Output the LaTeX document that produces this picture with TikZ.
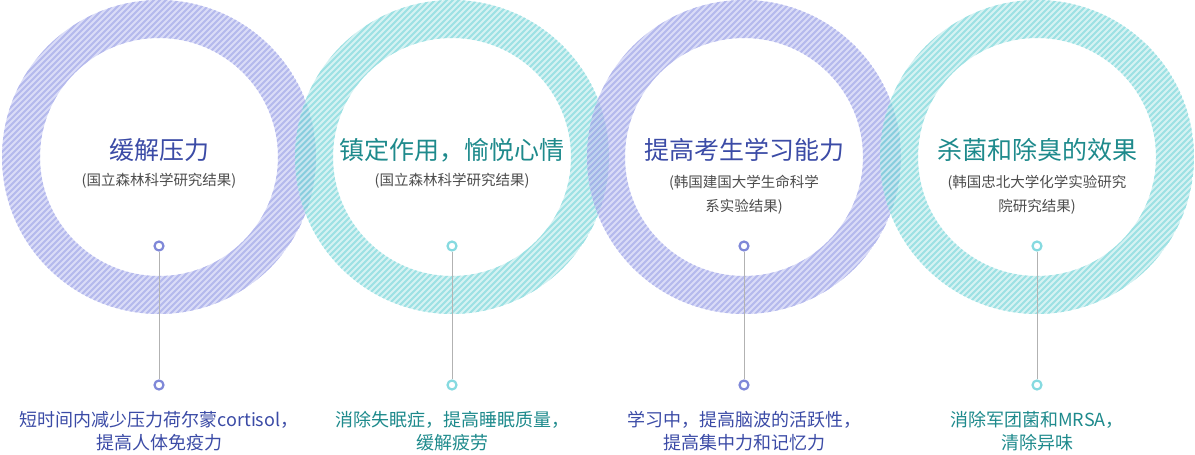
\documentclass[tikz,border=0pt]{standalone}
\usepackage{fontspec}
\setmainfont{Noto Sans CJK SC}
\usetikzlibrary{math}

\definecolor{morado}{HTML}{959BE5}
\definecolor{moradoclaro}{HTML}{CACDF4}
\definecolor{turquesa}{HTML}{72D4D8}
\definecolor{turquesaclaro}{HTML}{C3ECED}
\definecolor{txtmorado}{HTML}{3B4BA6}
\definecolor{txtturquesa}{HTML}{1E8A8C}
\definecolor{ptomorado}{HTML}{7F88D8}
\definecolor{ptoturquesa}{HTML}{86DAE0}

\begin{document}
\begin{tikzpicture}[
	x = 1pt, y = -1pt,
	titulo/.style = {font = \fontsize{25}{30}\selectfont},
	fuente/.style = {font = \fontsize{14.5}{24}\selectfont, text = black!70, align = center},
	efecto/.style = {font = \fontsize{18}{23}\selectfont, align = center},
	punto/.style = {circle, draw = #1, line width = 2.2pt, fill = white,
		minimum size = 9pt, inner sep = 0pt},
	guia/.style = {draw = black!30, line width = 0.8pt},
]

	% márgenes del dibujo
	\useasboundingbox (0,0) rectangle (1195,455);

	% parámetros de los anillos
	\tikzmath{
		\cy = 157;
		\R = 157; \r = 119;
	}

	% anillos rayados
	\foreach \cx/\col/\claro in {159/morado/moradoclaro, 452/turquesa/turquesaclaro,
		744/morado/moradoclaro, 1037/turquesa/turquesaclaro}
	{
		\begin{scope}[transparency group, opacity = 0.7, even odd rule]
			\clip (\cx,\cy) circle (\R pt) (\cx,\cy) circle (\r pt);
			\fill[\claro] (\cx,\cy) circle (\R pt);
			\foreach \s in {-228,-222,...,228}
				\draw[\col, line width = 1.8pt]
					(\cx+\s-170,\cy+170) -- (\cx+\s+170,\cy-170);
		\end{scope}
	}

	% títulos
	\node[titulo, text = txtmorado] (tit1) at (159,150) {缓解压力};
	\node[titulo, text = txtturquesa] (tit2) at (452,150) {镇定作用，愉悦心情};
	\node[titulo, text = txtmorado] (tit3) at (744,150) {提高考生学习能力};
	\node[titulo, text = txtturquesa] (tit4) at (1037,150) {杀菌和除臭的效果};

	% fuentes
	\node[fuente] (fue1) at (159,181) {(国立森林科学研究结果)};
	\node[fuente] (fue2) at (452,181) {(国立森林科学研究结果)};
	\node[fuente] (fue3) at (744,195) {(韩国建国大学生命科学\\系实验结果)};
	\node[fuente] (fue4) at (1037,195) {(韩国忠北大学化学实验研究\\院研究结果)};

	% puntos y guías
	\node[punto = ptomorado] (p1a) at (159,246) {};
	\node[punto = ptomorado] (p1b) at (159,385) {};
	\node[punto = ptoturquesa] (p2a) at (452,246) {};
	\node[punto = ptoturquesa] (p2b) at (452,385) {};
	\node[punto = ptomorado] (p3a) at (744,246) {};
	\node[punto = ptomorado] (p3b) at (744,385) {};
	\node[punto = ptoturquesa] (p4a) at (1037,246) {};
	\node[punto = ptoturquesa] (p4b) at (1037,385) {};

	\foreach \i in {1,2,3,4}
		\draw[guia] (p\i a) -- (p\i b);

	% efectos
	\node[efecto, text = txtmorado] (ef1) at (159,431)
		{短时间内减少压力荷尔蒙cortisol，\\提高人体免疫力};
	\node[efecto, text = txtturquesa] (ef2) at (452,431)
		{消除失眠症，提高睡眠质量，\\缓解疲劳};
	\node[efecto, text = txtmorado] (ef3) at (744,431)
		{学习中，提高脑波的活跃性，\\提高集中力和记忆力};
	\node[efecto, text = txtturquesa] (ef4) at (1037,431)
		{消除军团菌和MRSA，\\清除异味};

\end{tikzpicture}
\end{document}
